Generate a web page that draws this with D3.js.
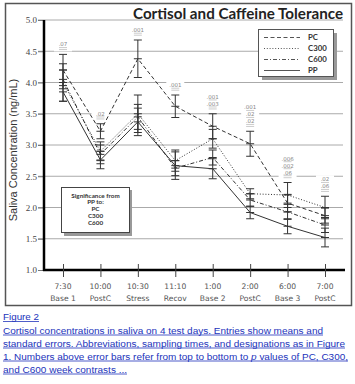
<!DOCTYPE html>
<html><head><meta charset="utf-8">
<script src="https://cdnjs.cloudflare.com/ajax/libs/d3/7.8.5/d3.min.js"></script>
<style>body{margin:0;background:#fff}svg{display:block}</style>
</head><body>
<svg id="c" width="355" height="384"></svg>
<script>
const times = ["7:30","10:00","10:30","11:10","1:00","2:00","6:00","7:00"];
const phases = ["Base 1","PostC","Stress","Recov","Base 2","PostC","Base 3","PostC"];
const seriesNames = ["PC","C300","C600","PP"];
const pcMean   = [4.20, 3.22, 4.38, 3.62, 3.30, 3.02, 2.07, 1.87];
const pcSE     = [0.25, 0.12, 0.30, 0.18, 0.20, 0.20, 0.14, 0.12];
const c300Mean = [4.00, 2.90, 3.50, 2.75, 3.10, 2.22, 2.20, 2.00];
const c300SE   = [0.30, 0.15, 0.30, 0.17, 0.15, 0.08, 0.20, 0.18];
const c600Mean = [4.05, 2.85, 3.45, 2.63, 2.80, 2.12, 1.93, 1.72];
const c600SE   = [0.15, 0.15, 0.20, 0.12, 0.12, 0.10, 0.12, 0.12];
const ppMean   = [3.85, 2.76, 3.37, 2.67, 2.62, 1.92, 1.70, 1.52];
const ppSE     = [0.15, 0.14, 0.22, 0.22, 0.16, 0.10, 0.12, 0.15];
const pLabels = [[".07"],[".02"],[".001"],[".001"],[".001",".003"],[".001",".02",".02"],[".006",".002",".06"],[".02",".06"]];
const yTicks = [1.0,1.5,2.0,2.5,3.0,3.5,4.0,4.5,5.0];
const sigLines = ["Significance from","PP to:","PC","C300","C600"];
const captionTitle = "Figure 2";
const captionLines = [
 "Cortisol concentrations in saliva on 4 test days. Entries show means and",
 "standard errors. Abbreviations, sampling times, and designations as in Figure",
 "1. Numbers above error bars refer from top to bottom to |p| values of PC, C300,",
 "and C600 week contrasts ..."];

const means = [pcMean, c300Mean, c600Mean, ppMean];
const ses = [pcSE, c300SE, c600SE, ppSE];
const dashes = ["4,2.5","1,1.8","4,2,1,2",null];

const svg = d3.select("#c");
const x = d3.scalePoint().domain(times).range([63, 325]);
const y = d3.scaleLinear().domain([1,5]).range([270, 20]);

// frame
svg.append("rect").attr("x",5.5).attr("y",3.5).attr("width",346).attr("height",302)
  .attr("fill","#fff").attr("stroke","#555").attr("stroke-width",1.5);

// title
svg.append("text").attr("x",343).attr("y",19).attr("text-anchor","end")
  .attr("font-family","Lato, 'Open Sans', sans-serif").attr("font-weight","bold")
  .attr("font-size",15).attr("fill","#222").attr("textLength",210).attr("lengthAdjust","spacingAndGlyphs")
  .text("Cortisol and Caffeine Tolerance");

// gridlines
svg.append("g").selectAll("line").data(yTicks.filter(d=>d>1)).join("line")
  .attr("x1",38).attr("x2",343).attr("y1",d=>y(d)).attr("y2",d=>y(d))
  .attr("stroke","#aaa").attr("stroke-width",1);

// y axis
const yAxis = d3.axisLeft(y).tickValues(yTicks).tickFormat(d3.format(".1f")).tickSize(6);
const gy = svg.append("g").attr("transform","translate(44,0)").call(yAxis);
gy.select(".domain").remove();
gy.selectAll(".tick line").attr("stroke","#777");
gy.selectAll(".tick text").attr("font-family","'Liberation Serif', serif").attr("font-size",9).attr("fill","#444").attr("x",-7);
svg.append("line").attr("x1",44).attr("x2",44).attr("y1",y(5)).attr("y2",y(1)+1).attr("stroke","#000").attr("stroke-width",2.5);

// y title
svg.append("text").attr("transform","translate(17,150) rotate(-90)").attr("text-anchor","middle")
  .attr("font-family","'Liberation Sans', Arial, sans-serif").attr("font-size",11).attr("fill","#333")
  .text("Saliva Concentration (ng/mL)");

// x axis
svg.append("line").attr("x1",43).attr("x2",345).attr("y1",y(1)).attr("y2",y(1)).attr("stroke","#000").attr("stroke-width",2.5);
const xAxis = d3.axisBottom(x).tickSize(7).tickFormat("");
const gx = svg.append("g").attr("transform",`translate(0,${y(1)})`).call(xAxis);
gx.select(".domain").remove();
gx.selectAll(".tick line").attr("y1",-6).attr("stroke","#444");
svg.append("g").selectAll("text").data(times).join("text")
  .attr("x",d=>x(d)).attr("y",289).attr("text-anchor","middle")
  .attr("font-family","'DejaVu Sans', sans-serif").attr("font-size",7.6).attr("fill","#555").text(d=>d);
svg.append("g").selectAll("text").data(phases).join("text")
  .attr("x",(d,i)=>x(times[i])).attr("y",301).attr("text-anchor","middle")
  .attr("font-family","'DejaVu Sans', sans-serif").attr("font-size",7.6).attr("fill","#555").text(d=>d);

// p-value labels with white backgrounds
const topCap = times.map((t,i)=>d3.max(means.map((m,s)=>m[i]+ses[s][i])));
const pg = svg.append("g");
times.forEach((t,i)=>{
  const labs = pLabels[i];
  const base = y(topCap[i]) - 6;
  const n = labs.length;
  pg.append("rect").attr("x",x(t)-9).attr("y",base - n*7 - 1).attr("width",18).attr("height",n*7+4).attr("fill","#fff");
  labs.forEach((l,k)=>{
    const by = base - (n-1-k)*7 - 2;
    pg.append("text").attr("x",x(t)).attr("y",by).attr("text-anchor","middle")
      .attr("font-family","'DejaVu Sans', sans-serif").attr("font-size",5.5).attr("fill","#888").text(l);
    pg.append("line").attr("x1",x(t)-4).attr("x2",x(t)+4).attr("y1",by+1.2).attr("y2",by+1.2).attr("stroke","#aaa").attr("stroke-width",0.6);
  });
  pg.append("line").attr("x1",x(t)-4).attr("x2",x(t)+4).attr("y1",base+1.2).attr("y2",base+1.2).attr("stroke","#aaa").attr("stroke-width",0.6);
});

// lines
const line = d3.line().x((d,i)=>x(times[i])).y(d=>y(d));
means.forEach((m,s)=>{
  const p = svg.append("path").attr("d",line(m)).attr("fill","none").attr("stroke","#333").attr("stroke-width",1);
  if (dashes[s]) p.attr("stroke-dasharray",dashes[s]);
});

// error bars
const eg = svg.append("g").attr("stroke","#333").attr("stroke-width",1);
means.forEach((m,s)=>{
  m.forEach((v,i)=>{
    const cx = x(times[i]), lo = y(v-ses[s][i]), hi = y(v+ses[s][i]);
    eg.append("line").attr("x1",cx).attr("x2",cx).attr("y1",lo).attr("y2",hi);
    [lo,hi,y(v)].forEach(yy=>eg.append("line").attr("x1",cx-4).attr("x2",cx+4).attr("y1",yy).attr("y2",yy));
  });
});

// legend
const lg = svg.append("g");
lg.append("rect").attr("x",262).attr("y",33).attr("width",75).attr("height",47).attr("fill","#999");
lg.append("rect").attr("x",258.5).attr("y",29.5).attr("width",75).attr("height",47).attr("fill","#fff").attr("stroke","#555");
seriesNames.forEach((n,s)=>{
  const yy = 37.5 + s*11;
  const l = lg.append("line").attr("x1",264).attr("x2",300).attr("y1",yy).attr("y2",yy).attr("stroke","#555").attr("stroke-width",1);
  if (dashes[s]) l.attr("stroke-dasharray",dashes[s]);
  lg.append("text").attr("x",308).attr("y",yy+2.8).attr("font-family","Lato, sans-serif").attr("font-weight","bold")
    .attr("font-size",7.8).attr("fill","#333").text(n);
});

// significance box
const sg = svg.append("g");
sg.append("rect").attr("x",64).attr("y",190).attr("width",68).attr("height",46).attr("fill","#999");
sg.append("rect").attr("x",61.5).attr("y",187.5).attr("width",68).attr("height",45).attr("fill","#fff").attr("stroke","#444");
sigLines.forEach((t,k)=>{
  sg.append("text").attr("x",95.5).attr("y",197.5+k*6.8).attr("text-anchor","middle")
    .attr("font-family","Lato, sans-serif").attr("font-weight","bold").attr("font-size",6.3).attr("fill","#333").text(t);
});

// caption
const blue = "#2233bb";
const cg = svg.append("g").attr("font-family","'Liberation Sans', Arial, sans-serif").attr("font-size",9.6).attr("fill",blue);
cg.append("text").attr("x",3).attr("y",320).attr("textLength",36).attr("lengthAdjust","spacingAndGlyphs").text(captionTitle);
cg.append("line").attr("x1",3).attr("x2",39).attr("y1",321.5).attr("y2",321.5).attr("stroke",blue).attr("stroke-width",0.8);
const widths = [320, 342, 345, 124];
captionLines.forEach((t,k)=>{
  const by = 333.5 + k*13;
  const tx = cg.append("text").attr("x",3).attr("y",by).attr("textLength",widths[k]).attr("lengthAdjust","spacingAndGlyphs");
  const parts = t.split("|");
  parts.forEach((p,j)=>{
    tx.append("tspan").attr("font-style", j===1?"italic":null).text(p);
  });
  cg.append("line").attr("x1",3).attr("x2",3+widths[k]).attr("y1",by+1.5).attr("y2",by+1.5).attr("stroke",blue).attr("stroke-width",0.8);
});
</script>
</body></html>
